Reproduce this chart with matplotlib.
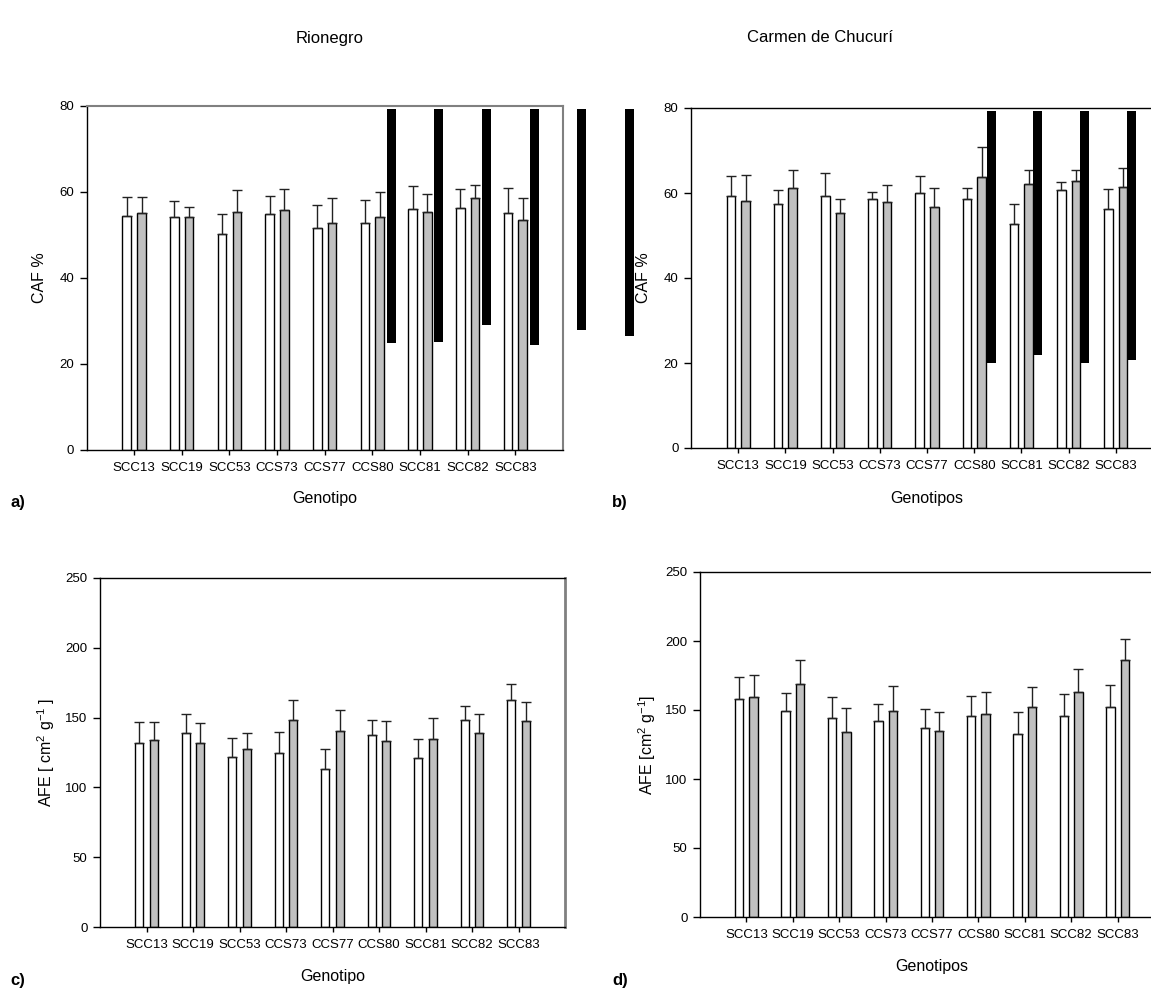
import numpy as np
import matplotlib
matplotlib.use("Agg")
import matplotlib.pyplot as plt

plt.rcParams['font.family'] = ['Liberation Sans', 'DejaVu Sans']
plt.rcParams['mathtext.default'] = 'regular'

# Data
genotipos = ["SCC13", "SCC19", "SCC53", "CCS73", "CCS77", "CCS80", "SCC81", "SCC82", "SCC83"]

# a) CAF % - Rionegro
caf_rio_w = [54.5, 54.1, 50.3, 55.0, 51.7, 52.9, 56.1, 56.3, 55.2]
caf_rio_w_err = [4.4, 3.7, 4.5, 4.1, 5.2, 5.3, 5.3, 4.3, 5.7]
caf_rio_g = [55.1, 54.3, 55.3, 55.7, 52.9, 54.3, 55.3, 58.7, 53.4]
caf_rio_g_err = [3.7, 2.3, 5.2, 4.9, 5.7, 5.6, 4.3, 2.9, 5.2]

# b) CAF % - Carmen de Chucuri
caf_car_w = [59.4, 57.5, 59.3, 58.5, 60.0, 58.7, 52.7, 60.7, 56.3]
caf_car_w_err = [4.6, 3.2, 5.4, 1.7, 3.9, 2.4, 4.6, 1.9, 4.7]
caf_car_g = [58.2, 61.1, 55.2, 58.0, 56.6, 63.7, 62.1, 62.9, 61.5]
caf_car_g_err = [6.0, 4.4, 3.5, 3.9, 4.5, 7.1, 3.2, 2.4, 4.4]

# c) AFE - Rionegro
afe_rio_w = [131.7, 139.3, 121.9, 125.0, 113.3, 137.6, 121.2, 148.4, 162.5]
afe_rio_w_err = [15.5, 13.6, 13.6, 15.0, 14.1, 10.8, 13.6, 10.0, 11.6]
afe_rio_g = [134.1, 131.7, 127.6, 148.4, 140.5, 132.9, 134.5, 139.3, 147.7]
afe_rio_g_err = [12.6, 14.3, 11.7, 14.1, 14.8, 15.0, 15.1, 13.1, 13.3]

# d) AFE - Carmen de Chucuri
afe_car_w = [158.1, 149.4, 144.3, 141.7, 136.6, 145.3, 132.5, 145.6, 152.3]
afe_car_w_err = [16.0, 12.8, 15.0, 13.0, 14.3, 15.0, 16.0, 15.7, 15.5]
afe_car_g = [159.1, 168.8, 134.2, 149.4, 134.9, 147.0, 152.1, 163.0, 186.2]
afe_car_g_err = [16.4, 17.1, 17.6, 17.9, 14.0, 15.7, 14.5, 16.9, 15.0]

# black stripes over the CAF panels (in each panel's own units)
black_a_x = [5.40, 6.39, 7.40, 8.40, 9.39, 10.40]
black_a_bottom = [24.9, 25.2, 29.1, 24.5, 27.8, 26.6]
black_b_x = [5.36, 6.35, 7.34, 8.33]
black_b_bottom = [19.9, 21.8, 20.1, 20.8]
black_top = 79.2

W, H = 1151, 992
fig = plt.figure(figsize=(W / 100, H / 100), dpi=100)


def add_panel(l, r, t, b):
    return fig.add_axes([l / W, 1 - b / H, (r - l) / W, (b - t) / H])


def draw_panel(ax, w, w_err, g, g_err, ymax, ystep, ylabel, xlabel, ylab_x, xlab_y, box):
    l, r, t, b = box
    x = np.arange(len(genotipos))
    bw = 0.18
    off = 0.155
    ax.bar(x - off, w, bw, color="white", edgecolor="black", linewidth=1, zorder=2)
    ax.bar(x + off, g, bw, color="#c0c0c0", edgecolor="black", linewidth=1, zorder=2)
    ax.errorbar(x - off, w, yerr=[np.zeros(len(w)), w_err], fmt="none",
                ecolor="#222222", elinewidth=1, capsize=3.3, capthick=1, zorder=3)
    ax.errorbar(x + off, g, yerr=[np.zeros(len(g)), g_err], fmt="none",
                ecolor="#222222", elinewidth=1, capsize=3.3, capthick=1, zorder=3)
    ax.set_xlim(-1, len(genotipos))
    ax.set_ylim(0, ymax)
    ax.set_yticks(np.arange(0, ymax + 1, ystep))
    ax.set_xticks(x)
    ax.set_xticklabels(genotipos)
    ax.tick_params(axis="x", direction="out", length=3.6, width=1, pad=5, labelsize=9.5)
    ax.tick_params(axis="y", direction="out", length=5, width=1, pad=4, labelsize=9.5)
    for s in ax.spines.values():
        s.set_linewidth(1)
    ax.set_ylabel(ylabel, fontsize=11.5)
    ax.set_xlabel(xlabel, fontsize=11.5)
    ax.yaxis.set_label_coords((ylab_x - l) / (r - l), 0.5)
    ax.yaxis.label.set_va("center")
    ax.xaxis.set_label_coords(0.5, (b - xlab_y) / (b - t))
    ax.xaxis.label.set_va("center")


box_a = (86.5, 563, 106, 450)
box_b = (691, 1163, 108, 448)
box_c = (100, 565, 578, 927)
box_d = (700, 1164, 572, 917)

ax_a = add_panel(*box_a)
draw_panel(ax_a, caf_rio_w, caf_rio_w_err, caf_rio_g, caf_rio_g_err, 80, 20,
           "CAF %", "Genotipo", 40, 498, box_a)
ax_b = add_panel(*box_b)
draw_panel(ax_b, caf_car_w, caf_car_w_err, caf_car_g, caf_car_g_err, 80, 20,
           "CAF %", "Genotipos", 643, 498, box_b)
ax_c = add_panel(*box_c)
draw_panel(ax_c, afe_rio_w, afe_rio_w_err, afe_rio_g, afe_rio_g_err, 250, 50,
           "AFE [ cm$^2$ g$^{-1}$ ]", "Genotipo", 46, 977, box_c)
ax_d = add_panel(*box_d)
draw_panel(ax_d, afe_car_w, afe_car_w_err, afe_car_g, afe_car_g_err, 250, 50,
           "AFE [cm$^2$ g$^{-1}$]", "Genotipos", 647, 967, box_d)

# grey-ish frame edges as in the scan
for sp in ("top", "right"):
    ax_a.spines[sp].set_color("#808080")
    ax_a.spines[sp].set_linewidth(1.5)
ax_c.spines["right"].set_color("#808080")
ax_c.spines["right"].set_linewidth(2)

# black stripes
ax_a.bar(black_a_x, [black_top - v for v in black_a_bottom], 0.19, bottom=black_a_bottom,
         color="black", clip_on=False, zorder=6)
ax_b.bar(black_b_x, [black_top - v for v in black_b_bottom], 0.19, bottom=black_b_bottom,
         color="black", clip_on=False, zorder=6)

# titles and panel letters
fig.text(330 / W, 1 - 38 / H, "Rionegro", fontsize=12, ha="center", va="center")
fig.text(820 / W, 1 - 38 / H, "Carmen de Chucurí", fontsize=12, ha="center", va="center")
for lab, xp, yp in [("a)", 18, 503), ("b)", 620, 503), ("c)", 18, 980), ("d)", 620, 980)]:
    fig.text(xp / W, 1 - yp / H, lab, fontsize=12, fontweight="bold", ha="center", va="center")

plt.savefig("out.png", dpi=100)
